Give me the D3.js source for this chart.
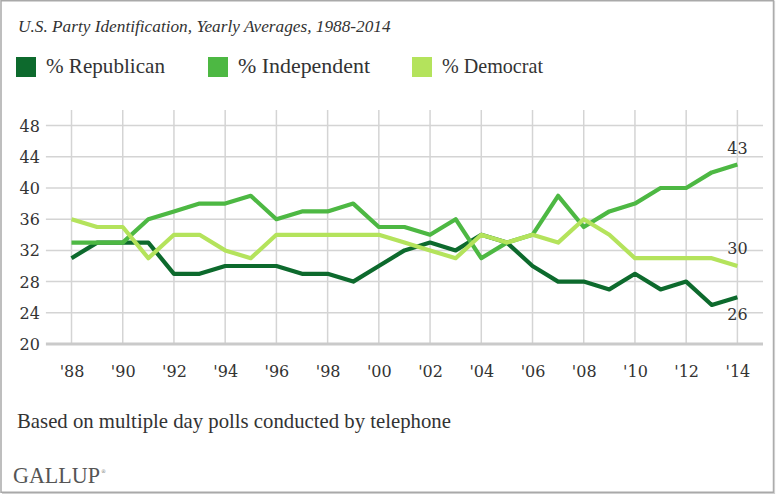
<!DOCTYPE html>
<html><head><meta charset="utf-8">
<script src="https://cdn.jsdelivr.net/npm/d3@7"></script>
<style>body{margin:0;background:#fff}svg{display:block}</style>
</head><body><svg id="c" width="776" height="495"></svg>
<script>
const years = [1988,1989,1990,1991,1992,1993,1994,1995,1996,1997,1998,1999,2000,2001,2002,2003,2004,2005,2006,2007,2008,2009,2010,2011,2012,2013,2014];
const republican  = [31,33,33,33,29,29,30,30,30,29,29,28,30,32,33,32,34,33,30,28,28,27,29,27,28,25,26];
const independent = [33,33,33,36,37,38,38,39,36,37,37,38,35,35,34,36,31,33,34,39,35,37,38,40,40,42,43];
const democrat    = [36,35,35,31,34,34,32,31,34,34,34,34,34,33,32,31,34,33,34,33,36,34,31,31,31,31,30];
const seriesNames = ["% Republican","% Independent","% Democrat"];
const seriesColors = ["#0d6a2d","#4db843","#b4e35c"];
const yTicks = [20,24,28,32,36,40,44,48];
const xTickYears = [1988,1990,1992,1994,1996,1998,2000,2002,2004,2006,2008,2010,2012,2014];
const xTickLabels = ["'88","'90","'92","'94","'96","'98","'00","'02","'04","'06","'08","'10","'12","'14"];
const title = "U.S. Party Identification, Yearly Averages, 1988-2014";
const note = "Based on multiple day polls conducted by telephone";
const brand = "GALLUP";

const svg = d3.select("#c");
const FONT = "'DejaVu Serif', 'Liberation Serif', serif";
const FONT2 = "'Liberation Serif', 'DejaVu Serif', serif";
const TXT = "#333";

function fit(sel, w) {
  const len = sel.node().getComputedTextLength();
  const fs = parseFloat(sel.attr("font-size"));
  sel.attr("font-size", (fs * w / len).toFixed(2));
  return sel;
}

// frame
svg.append("rect").attr("x",1).attr("y",0.75).attr("width",772.5).attr("height",491.5)
  .attr("fill","#fff").attr("stroke","#a9a9a9").attr("stroke-width",1.5);
svg.append("line").attr("x1",774.5).attr("x2",774.5).attr("y1",1).attr("y2",494).attr("stroke","#d0d0d0").attr("stroke-width",1.2);
svg.append("line").attr("x1",2).attr("x2",775).attr("y1",493.5).attr("y2",493.5).attr("stroke","#d0d0d0").attr("stroke-width",1.2);

// title
fit(svg.append("text").attr("x",18).attr("y",32).attr("font-family",FONT2).attr("font-style","italic")
  .attr("font-size",18).attr("fill",TXT).text(title), 373);

// legend
const legX = [16, 208, 412];
const legW = [119, 132, 101];
seriesNames.forEach((n,i)=>{
  svg.append("rect").attr("x",legX[i]).attr("y",57).attr("width",20).attr("height",20).attr("fill",seriesColors[i]);
  fit(svg.append("text").attr("x",legX[i]+30).attr("y",73).attr("font-family",FONT2).attr("font-size",16)
    .attr("fill",TXT).text(n), legW[i]);
});

// scales
const x = d3.scaleLinear().domain([1987, 2015]).range([45.9, 763]);
const y = d3.scaleLinear().domain([20, 50]).range([344, 110]);

// grid
const g = svg.append("g");
g.selectAll(".vg").data(xTickYears).join("line")
  .attr("x1",d=>x(d)).attr("x2",d=>x(d)).attr("y1",y(50)).attr("y2",y(20))
  .attr("stroke","#d4d4d4").attr("stroke-width",1.5);
g.selectAll(".hg").data(yTicks.filter(d=>d>20)).join("line")
  .attr("x1",x(1987)).attr("x2",x(2015)).attr("y1",d=>y(d)).attr("y2",d=>y(d))
  .attr("stroke","#d4d4d4").attr("stroke-width",1.5);
g.append("line").attr("x1",x(1987)).attr("x2",x(2015)).attr("y1",y(20)).attr("y2",y(20))
  .attr("stroke","#cacaca").attr("stroke-width",3);

// axes (labels only)
const yAxis = svg.append("g").attr("transform",`translate(${x(1987)-6},0)`)
  .call(d3.axisLeft(y).tickValues(yTicks).tickSize(0).tickPadding(0));
yAxis.select(".domain").remove();
yAxis.selectAll("text").attr("font-family",FONT).attr("font-size",16).attr("fill",TXT).attr("dy","0.34em");

const xAxis = svg.append("g").attr("transform",`translate(0,${y(20)})`)
  .call(d3.axisBottom(x).tickValues(xTickYears).tickFormat((d,i)=>xTickLabels[i]).tickSize(0).tickPadding(22));
xAxis.select(".domain").remove();
xAxis.selectAll("text").attr("font-family",FONT).attr("font-size",16).attr("fill",TXT);

// lines
const line = d3.line().x((d,i)=>x(years[i])).y(d=>y(d));
[republican, independent, democrat].forEach((s,i)=>{
  svg.append("path").datum(s).attr("d",line).attr("fill","none")
    .attr("stroke",seriesColors[i]).attr("stroke-width",4.2).attr("stroke-linejoin","round");
});

// end labels
const last = years.length-1;
const endLabels = [
  {v: independent[last], dy: -10.5},
  {v: democrat[last], dy: -12.5},
  {v: republican[last], dy: 22.5}
];
endLabels.forEach(l=>{
  svg.append("text").attr("x",x(years[last])).attr("y",y(l.v)+l.dy).attr("text-anchor","middle")
    .attr("font-family",FONT).attr("font-size",16).attr("fill",TXT).text(l.v);
});

// footnote
fit(svg.append("text").attr("x",17).attr("y",428).attr("font-family",FONT2).attr("font-size",15)
  .attr("fill",TXT).text(note), 434);

// brand
fit(svg.append("text").attr("x",13).attr("y",483).attr("font-family",FONT2).attr("font-size",18)
  .attr("fill","#555").text(brand), 87);
svg.append("text").attr("x",101).attr("y",473).attr("font-family",FONT).attr("font-size",5).attr("fill","#777").text("®");
</script></body></html>
